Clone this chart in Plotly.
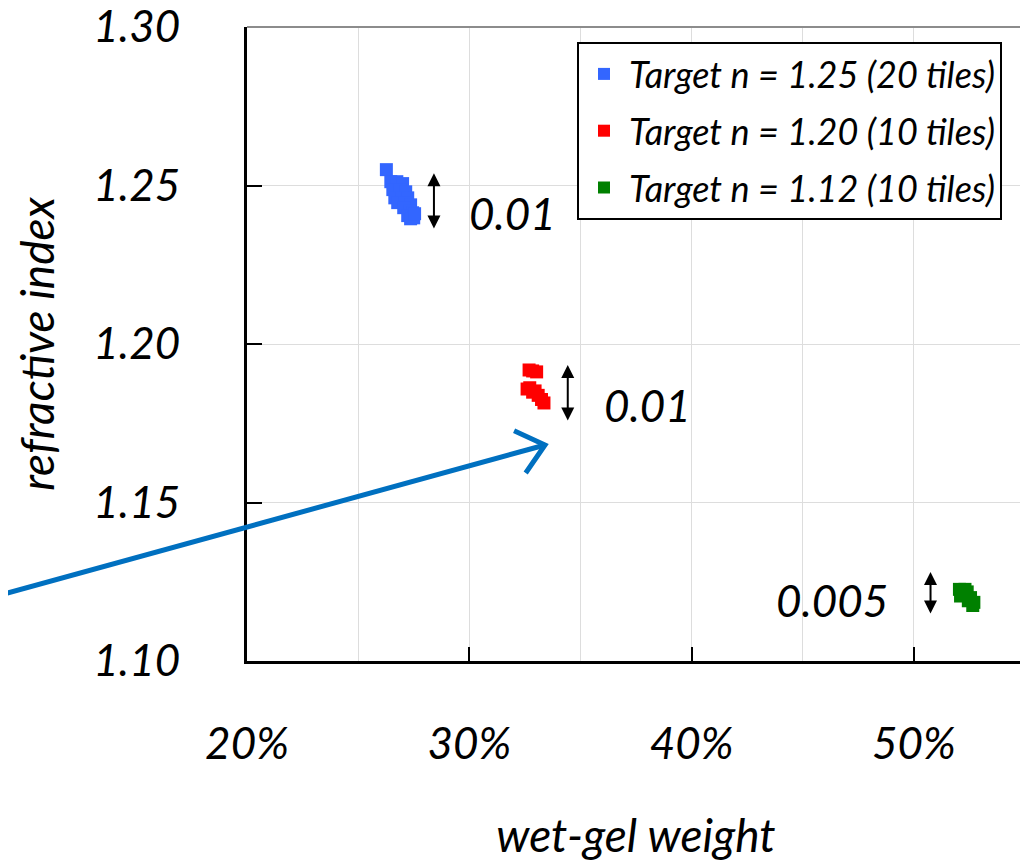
import math
import plotly.graph_objects as go

# ---- data ----
blue_x = [26.27, 26.47, 26.74, 27.00, 26.56, 26.87, 27.14, 26.65, 26.96, 27.23,
          26.78, 27.09, 27.36, 27.05, 27.32, 27.45, 27.23, 27.50, 27.36, 27.54]
blue_y = [1.2550, 1.2512, 1.2512, 1.2506, 1.2487, 1.2487, 1.2480, 1.2461, 1.2461, 1.2461,
          1.2446, 1.2446, 1.2439, 1.2430, 1.2420, 1.2414, 1.2405, 1.2398, 1.2395, 1.2411]
red_x = [32.69, 33.03, 32.85, 32.60, 32.72, 32.96, 32.85, 33.10, 33.25, 33.36]
red_y = [1.1918, 1.1912, 1.1915, 1.1858, 1.1862, 1.1852, 1.1848, 1.1838, 1.1825, 1.1814]
green_x = [52.05, 52.15, 52.30, 52.40, 52.10, 52.25, 52.55, 52.45, 52.70, 52.65]
green_y = [1.1226, 1.1224, 1.1226, 1.1218, 1.1205, 1.1210, 1.1200, 1.1190, 1.1185, 1.1175]

series_names = ["Target n = 1.25 (20 tiles)", "Target n = 1.20 (10 tiles)", "Target n = 1.12 (10 tiles)"]
series_colors = ["#3366FF", "#FF0000", "#008000"]

spread_x = [28.41, 34.43, 50.75]
spread_lo = [1.2360, 1.1754, 1.1145]
spread_hi = [1.2539, 1.1934, 1.1281]
spread_labels = ["0.01", "0.01", "0.005"]
spread_label_x = [29.9, 35.97, 48.93]
spread_label_y = [1.2413, 1.1808, 1.1192]
spread_label_anchor = ["left", "left", "right"]

x_ticks = [20, 30, 40, 50]
y_ticks = [1.10, 1.15, 1.20, 1.25, 1.30]

FONT = "Lato, Carlito, Calibri, sans-serif"

# ---- figure geometry (page body has an 8px margin) ----
W, H = 1020, 854
ML, MR, MT, MB = 239, 3, 19, 201
PW, PH = W - ML - MR, H - MT - MB
OFF = 8
PLOT_LEFT = OFF + ML
PLOT_BOTTOM = OFF + MT + PH

fig = go.Figure()
for i, (xs, ys) in enumerate([(blue_x, blue_y), (red_x, red_y), (green_x, green_y)]):
    fig.add_trace(go.Scatter(
        x=xs, y=ys, mode="markers", name=series_names[i], legendgroup=f"g{i}",
        marker=dict(symbol="square", size=13, color=series_colors[i], line=dict(width=0)),
    ))

annotations = []
for xv, lo, hi in zip(spread_x, spread_lo, spread_hi):
    annotations.append(dict(
        x=xv, y=hi, ax=xv, ay=lo, xref="x", yref="y", axref="x", ayref="y",
        text="", showarrow=True, arrowside="end+start", arrowhead=2, startarrowhead=2,
        arrowsize=1.3, startarrowsize=1.3, arrowwidth=2, arrowcolor="black", standoff=0, startstandoff=0,
    ))
for t, xv, yv, anc in zip(spread_labels, spread_label_x, spread_label_y, spread_label_anchor):
    annotations.append(dict(
        x=xv, y=yv, xref="x", yref="y", text=t, showarrow=False, xanchor=anc, yanchor="middle",
        font=dict(family=FONT, size=44, color="black", style="italic"),
    ))


def px2paper(px, py):
    return (px - PLOT_LEFT) / PW, (PLOT_BOTTOM - py) / PH


start = (0, 595)
tip = (545, 445)
dx, dy = tip[0] - start[0], tip[1] - start[1]
n = math.hypot(dx, dy)
ux, uy = dx / n, dy / n
L = 34
wings = []
for a in (math.radians(40), math.radians(-40)):
    rx = ux * math.cos(a) - uy * math.sin(a)
    ry = ux * math.sin(a) + uy * math.cos(a)
    wings.append((tip[0] - L * rx, tip[1] - L * ry))

s0 = px2paper(*start)
t0 = px2paper(*tip)
w1 = px2paper(*wings[0])
w2 = px2paper(*wings[1])

shapes = [
    dict(type="path", xref="paper", yref="paper", path="M 0,1 L 1,1 L 1,0",
         line=dict(color="#8C8C8C", width=2), layer="above"),
    dict(type="line", xref="paper", yref="paper", x0=s0[0], y0=s0[1], x1=t0[0], y1=t0[1],
         line=dict(color="#0070C0", width=5), layer="above"),
    dict(type="path", xref="paper", yref="paper",
         path=f"M {w1[0]},{w1[1]} L {t0[0]},{t0[1]} L {w2[0]},{w2[1]}",
         line=dict(color="#0070C0", width=5), layer="above"),
]

fig.update_layout(
    width=W, height=H,
    margin=dict(l=ML, r=MR, t=MT, b=MB, autoexpand=False),
    paper_bgcolor="white", plot_bgcolor="white",
    font=dict(family=FONT, size=36, color="black", style="italic"),
    showlegend=True,
    legend=dict(
        x=(577 - PLOT_LEFT) / PW, y=(PLOT_BOTTOM - 42) / PH, xanchor="left", yanchor="top",
        bgcolor="white", bordercolor="black", borderwidth=2,
        font=dict(family=FONT, size=36, color="black", style="italic"),
        tracegroupgap=7, itemsizing="constant", itemwidth=40,
    ),
    annotations=annotations,
    shapes=shapes,
    xaxis=dict(
        range=[20, 55], tickmode="array", tickvals=x_ticks, ticktext=[f"{v}%" for v in x_ticks],
        showline=True, linecolor="black", linewidth=3,
        ticks="inside", ticklen=14, tickwidth=2, tickcolor="black",
        showgrid=True, gridcolor="#DDDDDD", gridwidth=1,
        minor=dict(tickmode="linear", tick0=20, dtick=5, showgrid=True, gridcolor="#DDDDDD", gridwidth=1, ticks=""),
        tickfont=dict(family=FONT, size=44, color="black", style="italic"),
        ticklabelstandoff=42, ticklabeloverflow="allow",
        title=dict(text="wet-gel weight", font=dict(family=FONT, size=46, color="black", style="italic"), standoff=56),
        zeroline=False, fixedrange=True,
    ),
    yaxis=dict(
        range=[1.10, 1.30], tickmode="array", tickvals=y_ticks, ticktext=[f"{v:.2f}" for v in y_ticks],
        showline=True, linecolor="black", linewidth=3,
        ticks="inside", ticklen=15, tickwidth=2, tickcolor="black",
        showgrid=True, gridcolor="#DDDDDD", gridwidth=1,
        tickfont=dict(family=FONT, size=44, color="black", style="italic"),
        ticklabelstandoff=55, ticklabeloverflow="allow",
        title=dict(text="refractive index", font=dict(family=FONT, size=46, color="black", style="italic"), standoff=25),
        zeroline=False, fixedrange=True,
    ),
)

fig.write_html("out.html")
